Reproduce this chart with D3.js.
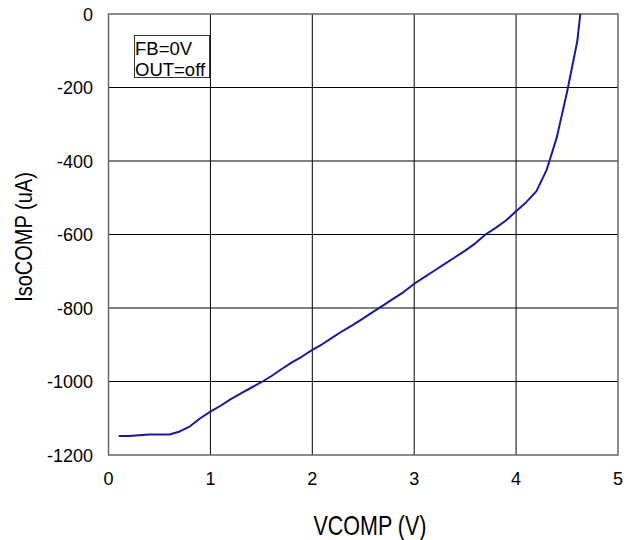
<!DOCTYPE html>
<html>
<head>
<meta charset="utf-8">
<script src="https://cdn.jsdelivr.net/npm/d3@7"></script>
<style>
  body { margin: 0; background: #fff; }
  text { font-family: "Liberation Sans", Arial, sans-serif; fill: #000; }
</style>
</head>
<body>
<svg id="chart"></svg>
<script>
// VCOMP (V) vs IsoCOMP (uA)
var vcomp = [0.1, 0.2, 0.3, 0.4, 0.5, 0.6, 0.7, 0.8, 0.9, 1.0,
             1.1, 1.2, 1.3, 1.4, 1.5, 1.6, 1.7, 1.8, 1.9, 2.0,
             2.1, 2.2, 2.3, 2.4, 2.5, 2.6, 2.7, 2.8, 2.9, 3.0,
             3.1, 3.2, 3.3, 3.4, 3.5, 3.6, 3.7, 3.8, 3.9, 4.0,
             4.1, 4.2, 4.3, 4.4, 4.5, 4.6, 4.63];
var isocomp = [-1148, -1148, -1146, -1144, -1144, -1144, -1136, -1122, -1100, -1082,
               -1066, -1048, -1032, -1017, -1002, -985, -966, -948, -932, -914,
               -898, -880, -862, -846, -828, -810, -792, -774, -756, -734,
               -716, -698, -680, -662, -644, -624, -600, -582, -562, -537,
               -512, -482, -424, -335, -212, -75, 0];
var xTicks = [0, 1, 2, 3, 4, 5];
var yTicks = [0, -200, -400, -600, -800, -1000, -1200];
var legendLines = ["FB=0V", "OUT=off"];

var width = 634, height = 540;
var svg = d3.select("#chart").attr("width", width).attr("height", height);

var x = d3.scaleLinear().domain([0, 5]).range([108.5, 618]);
var y = d3.scaleLinear().domain([-1200, 0]).range([455, 14]);

// grid
svg.append("g").selectAll("line")
  .data(xTicks.slice(1, -1))
  .enter().append("line")
  .attr("x1", function (d) { return x(d); })
  .attr("x2", function (d) { return x(d); })
  .attr("y1", y(0)).attr("y2", y(-1200))
  .attr("stroke", "#000").attr("stroke-width", 1);

svg.append("g").selectAll("line")
  .data(yTicks.slice(1, -1))
  .enter().append("line")
  .attr("x1", x(0)).attr("x2", x(5))
  .attr("y1", function (d) { return y(d); })
  .attr("y2", function (d) { return y(d); })
  .attr("stroke", "#000").attr("stroke-width", 1);

// frame
svg.append("rect")
  .attr("x", x(0)).attr("y", y(0))
  .attr("width", x(5) - x(0)).attr("height", y(-1200) - y(0))
  .attr("fill", "none").attr("stroke", "#666").attr("stroke-width", 1.5);

// tick labels
svg.append("g").selectAll("text")
  .data(xTicks)
  .enter().append("text")
  .attr("x", function (d) { return x(d); })
  .attr("y", 485)
  .attr("text-anchor", "middle")
  .style("font-size", "18px")
  .text(function (d) { return d; });

svg.append("g").selectAll("text")
  .data(yTicks)
  .enter().append("text")
  .attr("x", 93)
  .attr("y", function (d) { return y(d) + 6.5; })
  .attr("text-anchor", "end")
  .style("font-size", "18px")
  .text(function (d) { return d; });

// axis titles (source looks a bit stretched vertically)
svg.append("text")
  .attr("transform", "translate(370,535) scale(1,1.25)")
  .attr("text-anchor", "middle")
  .style("font-size", "21.5px")
  .text("VCOMP (V)");

svg.append("text")
  .attr("transform", "translate(32,237) rotate(-90) scale(1,1.2)")
  .attr("text-anchor", "middle")
  .style("font-size", "20px")
  .text("IsoCOMP (uA)");

// curve
var line = d3.line()
  .x(function (d, i) { return x(vcomp[i]); })
  .y(function (d) { return y(d); });

svg.append("path")
  .datum(isocomp)
  .attr("d", line)
  .attr("fill", "none")
  .attr("stroke", "#1a1a99")
  .attr("stroke-width", 2)
  .attr("stroke-linejoin", "round");

// legend box
svg.append("rect")
  .attr("x", 134.5).attr("y", 35.5)
  .attr("width", 75).attr("height", 42)
  .attr("fill", "#fff").attr("stroke", "#333").attr("stroke-width", 1);

svg.append("g").selectAll("text")
  .data(legendLines)
  .enter().append("text")
  .attr("x", 135)
  .attr("y", function (d, i) { return 55 + i * 21; })
  .style("font-size", "18.5px")
  .text(function (d) { return d; });
</script>
</body>
</html>
